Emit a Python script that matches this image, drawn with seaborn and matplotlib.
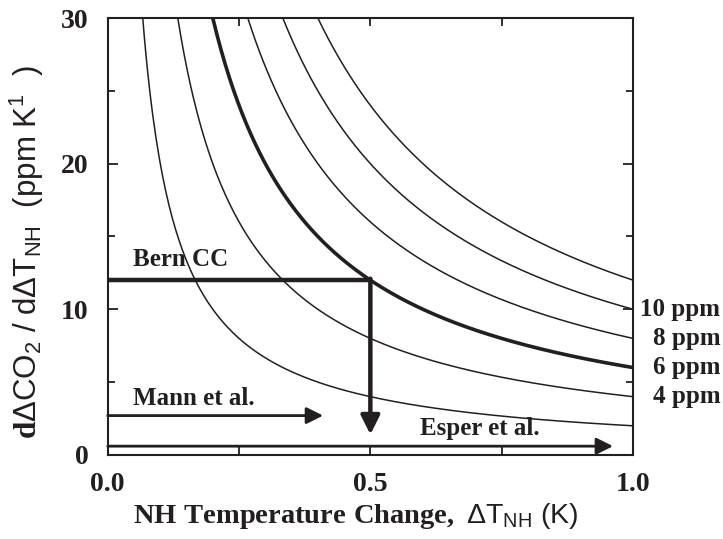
import numpy as np
import pandas as pd
import matplotlib
matplotlib.use('Agg')
import matplotlib.pyplot as plt
import seaborn as sns

# isolines of constant CO2 change (ppm)
ppm_levels = [2, 4, 6, 8, 10, 12]
bold_level = 6
labelled_levels = [10, 8, 6, 4]

# Bern CC: sensitivity (ppm/K) and temperature change (K)
bern_sens = 12
bern_dT = 0.5
bern_arrow_end = 1.4

# reconstruction arrows: y value and arrow tip (K)
mann_y, mann_end = 2.7, 0.41
esper_y, esper_end = 0.6, 0.962

sns.set_style('ticks')
plt.rcParams['font.family'] = ['Liberation Serif', 'DejaVu Serif']
plt.rcParams['mathtext.fontset'] = 'custom'
plt.rcParams['mathtext.rm'] = 'Liberation Sans:normal'
plt.rcParams['mathtext.it'] = 'Liberation Sans:italic:normal'
plt.rcParams['mathtext.bf'] = 'Liberation Serif:bold'

ink = '#231f20'

fig = plt.figure(figsize=(7.23, 5.39), dpi=100)
ax = fig.add_axes([0.149, 0.156, 0.7265, 0.8106])

rows = []
for c in ppm_levels:
    xs = np.linspace(c / 30.0, 1.0, 300)
    for x in xs:
        rows.append({'dT': x, 'sens': c / x, 'level': c})
df = pd.DataFrame(rows)

for c in ppm_levels:
    sub = df[df['level'] == c]
    sns.lineplot(data=sub, x='dT', y='sens', ax=ax, color=ink,
                 lw=2.6 if c == bold_level else 1.1, legend=False)

# Bern CC line and arrow
ax.plot([0, bern_dT], [bern_sens, bern_sens], color=ink, lw=3.2,
        solid_capstyle='butt')
ax.annotate('', xy=(bern_dT, bern_arrow_end), xytext=(bern_dT, bern_sens + 0.1),
            arrowprops=dict(arrowstyle='-|>', lw=3.2, color=ink,
                            mutation_scale=28, shrinkA=0, shrinkB=0))
ax.annotate('', xy=(mann_end, mann_y), xytext=(0, mann_y),
            arrowprops=dict(arrowstyle='-|>', lw=2.0, color=ink,
                            mutation_scale=25, shrinkA=0, shrinkB=0))
ax.annotate('', xy=(esper_end, esper_y), xytext=(0, esper_y),
            arrowprops=dict(arrowstyle='-|>', lw=2.0, color=ink,
                            mutation_scale=25, shrinkA=0, shrinkB=0))

ax.text(0.048, 13.45, 'Bern CC', fontsize=18, fontweight='bold', va='center', color=ink)
ax.text(0.048, 3.9, 'Mann et al.', fontsize=18, fontweight='bold', va='center', color=ink)
ax.text(0.594, 1.8, 'Esper et al.', fontsize=18, fontweight='bold', va='center', color=ink)

for c in labelled_levels:
    ax.text(1.166, c, f'{c} ppm', transform=ax.get_yaxis_transform(),
            fontsize=18, fontweight='bold', ha='right', va='center',
            clip_on=False, color=ink)

ax.set_xlim(0, 1)
ax.set_ylim(0, 30)
ax.set_xticks([0, 0.5, 1.0])
ax.set_xticklabels(['0.0', '0.5', '1.0'])
ax.set_xticks([0.25, 0.75], minor=True)
ax.set_yticks([0, 10, 20, 30])
ax.set_yticks([5, 15, 25], minor=True)
ax.tick_params(which='both', direction='in', top=True, right=True,
               labelsize=20, width=1.3, color=ink, labelcolor=ink)
ax.tick_params(axis='x', which='both', length=6, pad=12)
ax.tick_params(axis='y', which='major', length=7.5, pad=14)
ax.tick_params(axis='y', which='minor', length=5)
for lab in ax.get_xticklabels() + ax.get_yticklabels():
    lab.set_fontweight('bold')
for sp in ax.spines.values():
    sp.set_linewidth(1.5)
    sp.set_color(ink)

ax.set_xlabel(r'$\mathbf{NH\ Temperature\ Change,}\ \mathrm{\Delta T_{NH}\ (K)}$',
              fontsize=20.5, color=ink)
ax.set_ylabel(r'$\mathbf{d}\mathrm{\Delta CO_2\ /\ d\Delta T_{NH}\ \ (ppm\ K^1\ \ )}$',
              fontsize=22.5, color=ink)
ax.xaxis.set_label_coords(0.472, -0.105)
ax.yaxis.set_label_coords(-0.117, 0.465)

fig.savefig('out.png', dpi=100)
